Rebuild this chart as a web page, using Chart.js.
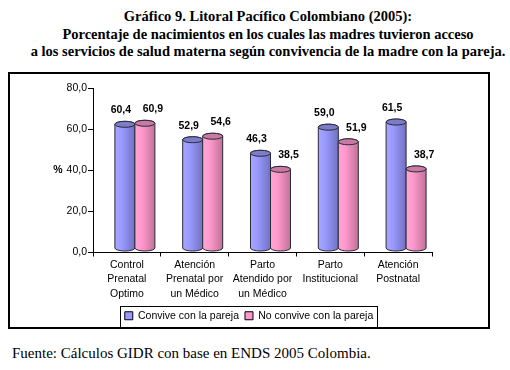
<!DOCTYPE html>
<html>
<head>
<meta charset="utf-8">
<script src="https://cdn.jsdelivr.net/npm/chart.js@4.4.1/dist/chart.umd.min.js"></script>
<style>
  html, body { margin:0; padding:0; background:#fff; }
  body { width:510px; height:370px; position:relative; overflow:hidden; }
  #title { position:absolute; left:26px; width:484px; top:8px; text-align:center;
    font-family:"Liberation Serif","Times New Roman",serif; font-weight:bold; font-size:14.5px; line-height:17.5px; color:#000; }
  #frame { position:absolute; left:8px; top:72px; width:482px; height:257px; box-sizing:border-box; border:2px solid #000; }
  #wrap { position:absolute; left:10px; top:74px; width:478px; height:270px; }
  #footer { position:absolute; left:12px; top:345px; font-family:"Liberation Serif","Times New Roman",serif;
    font-size:15px; line-height:16px; color:#000; white-space:nowrap; }
</style>
</head>
<body>
<div id="title">Gráfico 9. Litoral Pacífico Colombiano (2005):<br>Porcentaje de nacimientos en los cuales las madres tuvieron acceso<br>a los servicios de salud materna según convivencia de la madre con la pareja.</div>
<div id="frame"></div>
<div id="wrap"><canvas id="c" width="478" height="270"></canvas></div>
<div id="footer">Fuente: Cálculos GIDR con base en ENDS 2005 Colombia.</div>
<script>
const categories = [
  ["Control", "Prenatal", "Optimo"],
  ["Atención", "Prenatal por", "un Médico"],
  ["Parto", "Atendido por", "un Médico"],
  ["Parto", "Institucional"],
  ["Atención", "Postnatal"]
];
const seriesNames = ["Convive con la pareja", "No convive con la pareja"];
const convive = [60.4, 52.9, 46.3, 59.0, 61.5];
const noConvive = [60.9, 54.6, 38.5, 51.9, 38.7];
const yTicks = [0, 20, 40, 60, 80];

const fmt = v => v.toFixed(1).replace('.', ',');
const FONT = '"Liberation Sans", Arial, sans-serif';

const palette = [
  { base: '#9999FF', light: '#a6a6ff', dark: '#7272c0', cap: '#7c7cc8', dx: -4 },
  { base: '#FF99CC', light: '#ffa4d2', dark: '#c07298', cap: '#c87aa2', dx: 8 }
];
const DEPTH_X = 8, DEPTH_Y = 4, RY = 3;

const cylinders = {
  id: 'cylinders',
  beforeDatasetsDraw(chart) {
    const ctx = chart.ctx;
    ctx.save();
    chart.data.datasets.forEach((ds, di) => {
      const meta = chart.getDatasetMeta(di);
      const p = palette[di];
      meta.data.forEach(el => {
        const { x, y, base, width } = el.getProps(['x', 'y', 'base', 'width'], true);
        const cx = x + DEPTH_X, top = y - DEPTH_Y, bot = base - DEPTH_Y;
        const rx = width / 2, left = cx - rx, right = cx + rx;
        const g = ctx.createLinearGradient(left, 0, right, 0);
        g.addColorStop(0, p.light);
        g.addColorStop(0.35, p.base);
        g.addColorStop(1, p.dark);
        ctx.beginPath();
        ctx.moveTo(left, top);
        ctx.lineTo(left, bot);
        ctx.ellipse(cx, bot, rx, RY, 0, Math.PI, 0, true);
        ctx.lineTo(right, top);
        ctx.ellipse(cx, top, rx, RY, 0, 0, Math.PI, true);
        ctx.closePath();
        ctx.fillStyle = g;
        ctx.fill();
        ctx.lineWidth = 1;
        ctx.strokeStyle = '#2a2a3a';
        ctx.stroke();
        ctx.beginPath();
        ctx.ellipse(cx, top, rx, RY, 0, 0, Math.PI * 2);
        ctx.fillStyle = p.cap;
        ctx.fill();
        ctx.stroke();
      });
    });
    ctx.restore();
    return false;
  },
  afterDraw(chart) {
    const ctx = chart.ctx;
    ctx.save();
    ctx.font = 'bold 10.5px ' + FONT;
    ctx.fillStyle = '#000';
    ctx.textAlign = 'center';
    ctx.textBaseline = 'middle';
    chart.data.datasets.forEach((ds, di) => {
      const meta = chart.getDatasetMeta(di);
      meta.data.forEach((el, i) => {
        const { x, y } = el.getProps(['x', 'y'], true);
        ctx.fillText(fmt(ds.data[i]), x + DEPTH_X + palette[di].dx, y - DEPTH_Y - 14);
      });
    });
    const ys = chart.scales.y;
    ctx.fillText('%', ys.right - 35, (ys.top + ys.bottom) / 2);
    const lg = chart.legend;
    if (lg && lg.legendHitBoxes && lg.legendHitBoxes.length) {
      const hb = lg.legendHitBoxes;
      const l = Math.min(...hb.map(h => h.left)) - 5;
      const r = Math.max(...hb.map(h => h.left + h.width)) + 4;
      const t = Math.min(...hb.map(h => h.top)) - 5;
      const b = Math.max(...hb.map(h => h.top + h.height)) + 5;
      ctx.strokeStyle = '#000';
      ctx.lineWidth = 1;
      ctx.strokeRect(Math.round(l) + 0.5, Math.round(t) + 0.5, Math.round(r - l), Math.round(b - t));
    }
    ctx.restore();
  }
};

new Chart(document.getElementById('c'), {
  type: 'bar',
  data: {
    labels: categories,
    datasets: [
      { label: seriesNames[0], data: convive, backgroundColor: palette[0].base, borderColor: '#000', borderWidth: 1,
        categoryPercentage: 0.59, barPercentage: 1.0 },
      { label: seriesNames[1], data: noConvive, backgroundColor: palette[1].base, borderColor: '#000', borderWidth: 1,
        categoryPercentage: 0.59, barPercentage: 1.0 }
    ]
  },
  plugins: [cylinders],
  options: {
    responsive: false,
    animation: false,
    devicePixelRatio: 1,
    layout: { padding: { top: 14, right: 56, left: 56, bottom: 13 } },
    plugins: {
      title: { display: false },
      tooltip: { enabled: false },
      legend: {
        position: 'bottom',
        labels: {
          boxWidth: 8, boxHeight: 8, padding: 6, color: '#000',
          font: { family: FONT, size: 10.5 }
        }
      }
    },
    scales: {
      x: {
        afterFit(s) { s.height = 52; },
        grid: { display: true, drawOnChartArea: false, drawTicks: true, tickLength: 4, color: '#000', offset: true },
        border: { display: true, color: '#000', width: 1 },
        ticks: { color: '#000', padding: 1, maxRotation: 0, autoSkip: false,
          font: { family: FONT, size: 10.5, lineHeight: 1.4 } }
      },
      y: {
        min: 0, max: 80,
        afterFit(s) { s.width = 27; },
        afterBuildTicks(s) { s.ticks = yTicks.map(v => ({ value: v })); },
        grid: { display: true, drawOnChartArea: false, drawTicks: true, tickLength: 5, color: '#000' },
        border: { display: true, color: '#000', width: 1 },
        ticks: { color: '#000', padding: 1, callback: v => fmt(v),
          font: { family: FONT, size: 10.5 } }
      }
    }
  }
});
</script>
</body>
</html>
